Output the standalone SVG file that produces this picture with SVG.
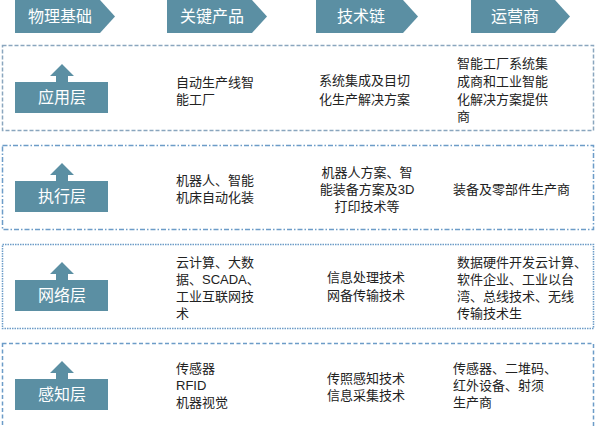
<svg xmlns="http://www.w3.org/2000/svg" width="600" height="427" viewBox="0 0 600 427">
<style>
.hdr{fill:#5b8fa3}
.hdrt{fill:#ffffff;font-family:"Liberation Sans","Noto Sans CJK SC",sans-serif;font-size:16px;text-anchor:middle}
.frame{fill:none;stroke:#6c9cc8;stroke-width:1.5}
.f1{stroke-dasharray:4 2;stroke:#8aa6be}
.f2{stroke-dasharray:5 2 1.5 2}
.f3{stroke-dasharray:1.5 1}
.f4{stroke-dasharray:4 2.5}
.lay{fill:#5b8fa3}
.layt{fill:#ffffff;font-family:"Liberation Sans","Noto Sans CJK SC",sans-serif;font-size:16px;text-anchor:middle}
.t{fill:#222222;font-family:"Liberation Sans","Noto Sans CJK SC",sans-serif;font-size:13px}
.c{text-anchor:middle}
</style>
<defs>
<g id="layershape">
<polygon points="50,12 62,0 74,12 68,12 68,18 56,18 56,12" class="lay"/>
<rect x="15" y="18" width="93" height="31" class="lay"/>
</g>
</defs>
<g id="headers">
<g id="h1"><polygon class="hdr" points="15,0 100,0 115,16.5 100,33 15,33"/><text class="hdrt" x="60" y="22">物理基础</text></g>
<g id="h2"><polygon class="hdr" points="167,0 252,0 267,16.5 252,33 167,33"/><text class="hdrt" x="212" y="22">关键产品</text></g>
<g id="h3"><polygon class="hdr" points="316,0 403,0 418,16.5 403,33 316,33"/><text class="hdrt" x="361" y="22">技术链</text></g>
<g id="h4"><polygon class="hdr" points="471,0 555,0 570,16.5 555,33 471,33"/><text class="hdrt" x="515" y="22">运营商</text></g>
</g>
<g id="row1">
<rect class="frame f1" x="2.5" y="45.5" width="591" height="85"/>
<g id="layer1"><use href="#layershape" transform="translate(0,64)"/><text class="layt" x="62" y="103">应用层</text></g>
<text class="t" x="176" y="86.5"><tspan x="176">自动生产线智</tspan><tspan x="176" dy="17">能工厂</tspan></text>
<text class="t" x="319" y="85"><tspan x="319">系统集成及目切</tspan><tspan x="319" dy="18.5">化生产解决方案</tspan></text>
<text class="t" x="457" y="68"><tspan x="457">智能工厂系统集</tspan><tspan x="457" dy="18">成商和工业智能</tspan><tspan x="457" dy="17.5">化解决方案提供</tspan><tspan x="457" dy="17">商</tspan></text>
</g>
<g id="row2">
<rect class="frame f2" x="2.5" y="145.5" width="591" height="84"/>
<g id="layer2"><use href="#layershape" transform="translate(0,163)"/><text class="layt" x="62" y="202">执行层</text></g>
<text class="t" x="176" y="185"><tspan x="176">机器人、智能</tspan><tspan x="176" dy="17">机床自动化装</tspan></text>
<text class="t c" x="367" y="177"><tspan x="367">机器人方案、智</tspan><tspan x="367" dy="17">能装备方案及3D</tspan><tspan x="367" dy="16.5">打印技术等</tspan></text>
<text class="t" x="453" y="194">装备及零部件生产商</text>
</g>
<g id="row3">
<rect class="frame f3" x="2.5" y="244.5" width="591" height="84"/>
<g id="layer3"><use href="#layershape" transform="translate(0,262)"/><text class="layt" x="62" y="301">网络层</text></g>
<text class="t" x="176" y="267"><tspan x="176">云计算、大数</tspan><tspan x="176" dy="17">据、SCADA、</tspan><tspan x="176" dy="17">工业互联网技</tspan><tspan x="176" dy="17">术</tspan></text>
<text class="t" x="327" y="282"><tspan x="327">信息处理技术</tspan><tspan x="327" dy="18">网备传输技术</tspan></text>
<text class="t" x="457" y="267"><tspan x="457">数据硬件开发云计算、</tspan><tspan x="457" dy="17">软件企业、工业以台</tspan><tspan x="457" dy="17">湾、总线技术、无线</tspan><tspan x="457" dy="17">传输技术生</tspan></text>
</g>
<g id="row4">
<rect class="frame f4" x="2.5" y="343.5" width="591" height="90"/>
<g id="layer4"><use href="#layershape" transform="translate(0,361)"/><text class="layt" x="62" y="400">感知层</text></g>
<text class="t" x="176" y="373"><tspan x="176">传感器</tspan><tspan x="176" dy="17">RFID</tspan><tspan x="176" dy="17">机器视觉</tspan></text>
<text class="t" x="327" y="383"><tspan x="327">传照感知技术</tspan><tspan x="327" dy="17">信息采集技术</tspan></text>
<text class="t" x="453" y="373"><tspan x="453">传感器、二堆码、</tspan><tspan x="453" dy="17">红外设备、射须</tspan><tspan x="453" dy="17">生产商</tspan></text>
</g>
</svg>
